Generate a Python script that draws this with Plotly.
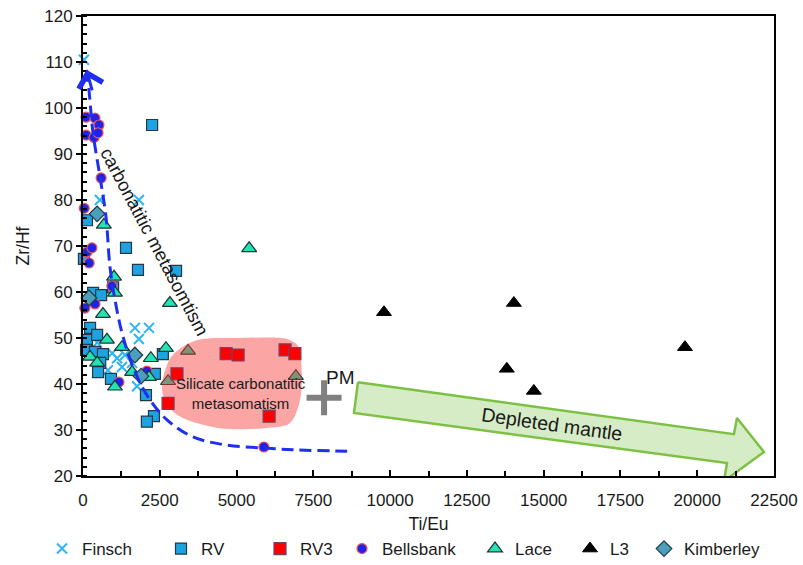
import plotly.graph_objects as go

# ---- sample data: Ti/Eu vs Zr/Hf ----
finsch_x = [30, 550, 1820, 1690, 2150, 1820, 950, 1110, 1370, 810, 1270, 1760, 460, 1600]
finsch_y = [110.5, 80, 80, 52.2, 52.2, 49.8, 46.7, 45.6, 46.3, 43.0, 43.7, 39.5, 49.0, 44.6]

rv_x = [2250, 130, 1400, 1790, 3030, 30, 330, 590, 980, 230, 130, 460, 100, 390, 650,
        560, 490, 910, 2600, 2340, 2050, 2310, 2080]
rv_y = [96.3, 75.6, 69.6, 64.8, 64.6, 67.2, 59.8, 59.3, 61.0, 52.2, 49.6, 50.7, 47.4, 47.0, 46.5,
        44.6, 42.6, 41.1, 46.5, 42.2, 37.6, 33.0, 31.8]

rv3_x = [3060, 2770, 4660, 5050, 6580, 6900, 6060]
rv3_y = [42.2, 35.8, 46.6, 46.3, 47.4, 46.6, 33.0]

bells_x = [100, 390, 520, 100, 360, 490, 590, 40, 130, 290, 200, 60, 390, 940, 2080, 1170, 5890]
bells_y = [98.0, 97.8, 96.3, 94.1, 93.6, 94.6, 84.8, 78.2, 68.7, 69.6, 66.3, 56.5, 57.4, 61.3,
           42.8, 40.4, 26.3]

lace_x = [680, 5410, 1010, 1040, 650, 2830, 780, 230, 460, 1270, 1040, 1600, 2210, 2150,
          2700, 3420, 6930, 2770]
lace_y = [74.6, 69.5, 63.3, 59.8, 55.2, 57.6, 49.6, 45.9, 44.6, 48.0, 39.4, 42.6, 45.6, 41.5,
          47.8, 47.2, 41.7, 40.6]

l3_x = [9800, 14030, 13800, 14680, 19600]
l3_y = [55.6, 57.6, 43.3, 38.5, 48.0]

kimb_x = [460, 195, 1690, 1890]
kimb_y = [77.0, 58.7, 46.3, 41.7]

# primitive mantle reference point
pm_x = [7850]
pm_y = [37.0]

# carbonatitic metasomatism trend (dashed curve)
trend_x = [115, 200, 326, 554, 749, 879, 1042, 1270, 1628, 2116, 2735, 3582, 4689, 5861, 6838, 8600]
trend_y = [108.3, 103.5, 94.6, 85.0, 76.3, 65.4, 58.3, 51.1, 43.7, 37.2, 32.2, 28.5, 26.7, 26.1, 25.7, 25.4]

# silicate-carbonatitic metasomatism field
field_x = [4460, 3256, 2735, 2572, 2833, 3321, 3810, 5112, 6642, 7000, 7120, 7066, 6740, 5926, 4460]
field_y = [30.4, 32.6, 35.4, 39.3, 45.5, 48.4, 49.7, 50.0, 49.8, 48.3, 43.0, 36.5, 31.5, 30.4, 30.4]

# depleted-mantle block arrow outline
dm_x = [8954, 21197, 21294, 22173, 20871, 20969, 8824, 8954]
dm_y = [40.4, 29.1, 32.6, 25.2, 18.9, 22.8, 33.7, 40.4]

FONT = "Liberation Sans, Arial, sans-serif"
INK = "#1a1a1a"
OUT = "#243845"

fig = go.Figure()

series = [
    ("Finsch", finsch_x, finsch_y, dict(symbol="x-thin", size=10, color="#2bb5f2",
                                        line=dict(width=2, color="#2bb5f2"))),
    ("RV", rv_x, rv_y, dict(symbol="square", size=11, color="#1da3e0",
                            line=dict(width=1.2, color=OUT))),
    ("Bellsbank", bells_x, bells_y, dict(symbol="circle", size=10, color="#2222e6",
                                         line=dict(width=1.2, color="#e85a5a"))),
    ("Lace", lace_x, lace_y, dict(symbol="triangle-up", size=13, color="#22e3b3",
                                  line=dict(width=1.2, color="#1d3535"))),
    ("L3", l3_x, l3_y, dict(symbol="triangle-up", size=13, color="#000000",
                            line=dict(width=1, color="#000000"))),
    ("Kimberley", kimb_x, kimb_y, dict(symbol="diamond", size=12, color="#4b9fbb",
                                       line=dict(width=1.2, color=OUT))),
]
legend_of = {"Finsch": "legend", "RV": "legend2", "RV3": "legend3", "Bellsbank": "legend4",
             "Lace": "legend5", "L3": "legend6", "Kimberley": "legend7"}

for name, xs, ys, mk in series:
    fig.add_trace(go.Scatter(x=xs, y=ys, mode="markers", name=name, marker=mk,
                             legend=legend_of[name], cliponaxis=False))

# translucent field over the data
fig.add_trace(go.Scatter(x=field_x, y=field_y, mode="lines", fill="toself",
                         line=dict(width=0, shape="spline", smoothing=0.9),
                         fillcolor="rgba(245,50,50,0.44)", showlegend=False, hoverinfo="skip"))

fig.add_trace(go.Scatter(x=rv3_x, y=rv3_y, mode="markers", name="RV3", legend="legend3",
                         marker=dict(symbol="square", size=12, color="#ff0000",
                                     line=dict(width=1.2, color="#7a4060"))))

# dashed trend
fig.add_trace(go.Scatter(x=trend_x, y=trend_y, mode="lines", showlegend=False, hoverinfo="skip",
                         line=dict(color="#1f2ff0", width=3, dash="12px,6px", shape="spline")))

# depleted mantle arrow
fig.add_trace(go.Scatter(x=dm_x, y=dm_y, mode="lines", fill="toself", showlegend=False,
                         hoverinfo="skip", line=dict(color="#7cc142", width=2.5),
                         fillcolor="#d6ecc6"))

# PM marker
fig.add_trace(go.Scatter(x=pm_x, y=pm_y, mode="markers", showlegend=False, hoverinfo="skip",
                         marker=dict(symbol="cross-thin", size=25,
                                     line=dict(width=6, color="#808080"))))

annotations = [
    dict(x=trend_x[0], y=trend_y[0], ax=6, ay=22, xref="x", yref="y",
         text="", showarrow=True, arrowhead=4, arrowsize=1.6,
         arrowwidth=3, arrowcolor="#1f2ff0"),
    dict(x=2330, y=71.0, text="carbonatitic metasomtism", textangle=62, showarrow=False,
         font=dict(size=18.5, color=INK, family=FONT)),
    dict(x=5130, y=37.9, text="Silicate carbonatitic<br>metasomatism", showarrow=False,
         font=dict(size=15, color=INK, family=FONT)),
    dict(x=8370, y=41.4, text="PM", showarrow=False,
         font=dict(size=19, color=INK, family=FONT)),
    dict(x=15260, y=31.4, text="Depleted mantle", textangle=8, showarrow=False,
         font=dict(size=19.5, color=INK, family=FONT)),
]

# one legend box per series so each entry sits at its own spot
leg_px = [62, 181, 280, 362, 495, 590, 664]
L, R, T, B = 83, 774, 16, 476
legends = {}
for i, px in enumerate(leg_px):
    key = "legend" if i == 0 else f"legend{i + 1}"
    legends[key] = dict(x=(px - 20 - L) / (R - L), y=(B - 549) / (B - T), xanchor="left",
                        yanchor="middle", orientation="h", bgcolor="rgba(0,0,0,0)",
                        font=dict(size=17, color=INK, family=FONT), itemwidth=30)

fig.update_layout(
    template="none",
    width=803, height=565, margin=dict(l=L, r=803 - R, t=T, b=565 - B, autoexpand=False),
    paper_bgcolor="white", plot_bgcolor="white",
    font=dict(family=FONT, color=INK),
    annotations=annotations,
    **legends,
)

fig.update_xaxes(range=[0, 22500], dtick=2500, tick0=0, tickformat="d", showgrid=False,
                 zeroline=False, showline=True, linecolor="black", linewidth=2, mirror=True,
                 automargin=False,
                 ticks="inside", ticklen=6, tickwidth=1.5, tickcolor="black", ticklabelstandoff=8,
                 minor=dict(dtick=1250, ticks="inside", ticklen=5, tickwidth=1.5, tickcolor="black"),
                 tickfont=dict(size=17, family=FONT, color=INK),
                 title=dict(text="Ti/Eu", font=dict(size=17.5, family=FONT, color=INK), standoff=8))
fig.update_yaxes(range=[20, 120], dtick=10, tick0=20, showgrid=False, zeroline=False,
                 showline=True, linecolor="black", linewidth=2, mirror=True,
                 automargin=False,
                 ticks="outside", ticklen=5, tickwidth=1.5, tickcolor="black",
                 minor=dict(dtick=2, ticks="inside", ticklen=4, tickwidth=1.5, tickcolor="black"),
                 tickfont=dict(size=17, family=FONT, color=INK),
                 title=dict(text="Zr/Hf", font=dict(size=17.5, family=FONT, color=INK), standoff=10))

fig.write_html("out.html")
